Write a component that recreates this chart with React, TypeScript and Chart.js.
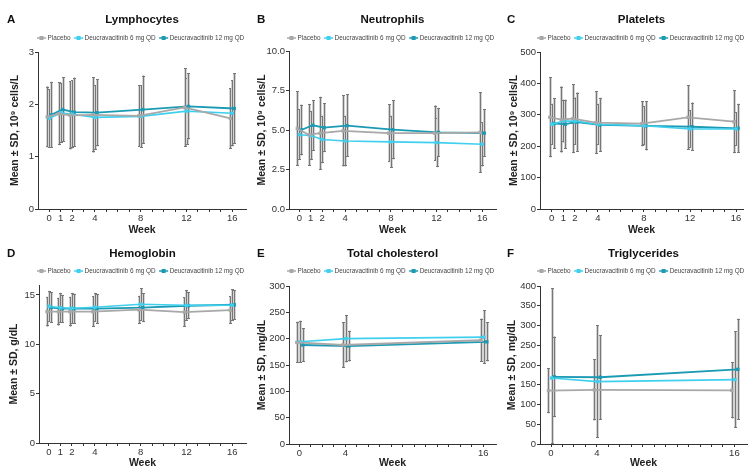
import React, { useEffect, useRef } from 'react';
import { Chart, registerables } from 'chart.js';

Chart.register(...registerables);
Chart.defaults.font.family = '"Liberation Sans", Arial, sans-serif';

// ---------- data ----------
const WEEKS_FULL = [0, 1, 2, 4, 8, 12, 16];
const WEEKS_LIPID = [0, 4, 16];
const SERIES_NAMES = ['Placebo', 'Deucravacitinib 6 mg QD', 'Deucravacitinib 12 mg QD'];
const SERIES_COLORS = ['#a8a8a8', '#3fd0ef', '#1b9ab4'];

// A – Lymphocytes (10^9 cells/L)
const lymphPlacebo = [1.76, 1.82, 1.79, 1.8, 1.78, 1.94, 1.73];
const lymphPlaceboSD = [0.58, 0.6, 0.65, 0.72, 0.59, 0.75, 0.58];
const lymph6 = [1.73, 1.84, 1.81, 1.75, 1.77, 1.87, 1.83];
const lymph6SD = [0.56, 0.57, 0.65, 0.62, 0.6, 0.64, 0.63];
const lymph12 = [1.8, 1.9, 1.85, 1.84, 1.9, 1.96, 1.92];
const lymph12SD = [0.63, 0.62, 0.66, 0.64, 0.65, 0.63, 0.67];

// B – Neutrophils (10^9 cells/L)
const neutPlacebo = [5.1, 4.7, 4.8, 4.95, 4.8, 4.8, 4.85];
const neutPlaceboSD = [2.35, 1.95, 2.3, 2.25, 1.83, 1.75, 2.55];
const neut6 = [4.7, 4.65, 4.4, 4.3, 4.25, 4.2, 4.1];
const neut6SD = [1.6, 1.55, 1.5, 1.6, 1.65, 1.55, 1.4];
const neut12 = [5.0, 5.3, 5.15, 5.28, 5.02, 4.85, 4.8];
const neut12SD = [1.6, 1.6, 1.55, 1.97, 1.87, 1.55, 1.5];

// C – Platelets (10^9 cells/L)
const pltPlacebo = [292, 285, 288, 275, 272, 292, 278];
const pltPlaceboSD = [127, 105, 110, 100, 72, 103, 100];
const plt6 = [270, 280, 280, 270, 265, 255, 255];
const plt6SD = [65, 68, 75, 65, 62, 60, 53];
const plt12 = [272, 270, 277, 268, 265, 262, 257];
const plt12SD = [80, 78, 94, 86, 78, 77, 78];

// D – Hemoglobin (g/dL)
const hgbPlacebo = [13.3, 13.3, 13.3, 13.3, 13.5, 13.25, 13.45];
const hgbPlaceboSD = [1.5, 1.4, 1.5, 1.55, 1.4, 1.5, 1.4];
const hgb6 = [13.85, 13.7, 13.65, 13.75, 14.05, 13.95, 13.95];
const hgb6SD = [1.55, 1.5, 1.55, 1.45, 1.65, 1.55, 1.6];
const hgb12 = [13.7, 13.6, 13.6, 13.6, 13.7, 13.9, 14.0];
const hgb12SD = [1.55, 1.4, 1.5, 1.5, 1.45, 1.35, 1.5];

// E – Total cholesterol (mg/dL)
const cholPlacebo = [193, 188, 197];
const cholPlaceboSD = [39, 43, 41];
const chol6 = [194, 200, 203];
const chol6SD = [40, 45, 51];
const chol12 = [188, 186, 194];
const chol12SD = [32, 29, 37];

// F – Triglycerides (mg/dL)
const trigPlacebo = [135, 137, 136];
const trigPlaceboSD = [57, 77, 71];
const trig6 = [167, 158, 163];
const trig6SD = [228, 143, 122];
const trig12 = [170, 169, 189];
const trig12SD = [102, 107, 128];

const Y_TITLE_CELLS = 'Mean \u00b1 SD, 10\u2079 cells/L';
const Y_TITLE_GDL = 'Mean \u00b1 SD, g/dL';
const Y_TITLE_MGDL = 'Mean \u00b1 SD, mg/dL';

// ---------- panel layout ----------
type PanelCfg = {
  letter: string; title: string; yTitle: string;
  weeks: number[]; means: number[][]; sds: number[][];
  yMin: number; yMax: number; yStep: number; yDec: number;
  xMin: number; xMax: number; offsets: number[];
  px: number; py: number; w: number; h: number;
  left: number; top: number; bottom: number; right: number;
  titleY: number; legendY: number; weekPad: number; yTitleX: number;
};

const OFFS_FULL = [-0.17, 0, 0.17];
const OFFS_LIPID = [-0.22, 0.05, 0.3];

const PANELS: PanelCfg[] = [
  {
    letter: 'A', title: 'Lymphocytes', yTitle: Y_TITLE_CELLS, weeks: WEEKS_FULL,
    means: [lymphPlacebo, lymph6, lymph12], sds: [lymphPlaceboSD, lymph6SD, lymph12SD],
    yMin: 0, yMax: 3, yStep: 1, yDec: 0, xMin: -0.98, xMax: 17.2, offsets: OFFS_FULL,
    px: 0, py: 0, w: 250, h: 236, left: 38, top: 52, bottom: 209, right: 248,
    titleY: 19.5, legendY: 38, weekPad: 0, yTitleX: 15,
  },
  {
    letter: 'B', title: 'Neutrophils', yTitle: Y_TITLE_CELLS, weeks: WEEKS_FULL,
    means: [neutPlacebo, neut6, neut12], sds: [neutPlaceboSD, neut6SD, neut12SD],
    yMin: 0, yMax: 10, yStep: 2.5, yDec: 1, xMin: -0.9, xMax: 17.2, offsets: OFFS_FULL,
    px: 250, py: 0, w: 250, h: 236, left: 39, top: 51, bottom: 209, right: 248,
    titleY: 19.5, legendY: 38, weekPad: 0, yTitleX: 12.5,
  },
  {
    letter: 'C', title: 'Platelets', yTitle: Y_TITLE_CELLS, weeks: WEEKS_FULL,
    means: [pltPlacebo, plt6, plt12], sds: [pltPlaceboSD, plt6SD, plt12SD],
    yMin: 0, yMax: 500, yStep: 100, yDec: 0, xMin: -1.02, xMax: 16.6, offsets: OFFS_FULL,
    px: 500, py: 0, w: 253, h: 236, left: 40, top: 52, bottom: 209, right: 243,
    titleY: 19.5, legendY: 38, weekPad: 0, yTitleX: 14.5,
  },
  {
    letter: 'D', title: 'Hemoglobin', yTitle: Y_TITLE_GDL, weeks: WEEKS_FULL,
    means: [hgbPlacebo, hgb6, hgb12], sds: [hgbPlaceboSD, hgb6SD, hgb12SD],
    yMin: 0, yMax: 16, yStep: 5, yDec: 0, xMin: -0.87, xMax: 17.2, offsets: OFFS_FULL,
    px: 0, py: 236, w: 250, h: 236, left: 39, top: 49, bottom: 207, right: 248,
    titleY: 17.5, legendY: 35, weekPad: 3, yTitleX: 14,
  },
  {
    letter: 'E', title: 'Total cholesterol', yTitle: Y_TITLE_MGDL, weeks: WEEKS_LIPID,
    means: [cholPlacebo, chol6, chol12], sds: [cholPlaceboSD, chol6SD, chol12SD],
    yMin: 0, yMax: 300, yStep: 50, yDec: 0, xMin: -0.9, xMax: 17.1, offsets: OFFS_LIPID,
    px: 250, py: 236, w: 250, h: 236, left: 39, top: 50, bottom: 208, right: 247,
    titleY: 17.5, legendY: 35, weekPad: 3, yTitleX: 12.5,
  },
  {
    letter: 'F', title: 'Triglycerides', yTitle: Y_TITLE_MGDL, weeks: WEEKS_LIPID,
    means: [trigPlacebo, trig6, trig12], sds: [trigPlaceboSD, trig6SD, trig12SD],
    yMin: 0, yMax: 400, yStep: 50, yDec: 0, xMin: -0.96, xMax: 17.1, offsets: OFFS_LIPID,
    px: 500, py: 236, w: 253, h: 236, left: 40, top: 50, bottom: 208, right: 247,
    titleY: 17.5, legendY: 35, weekPad: 3, yTitleX: 12.5,
  },
];

const FONT = '"Liberation Sans", Arial, sans-serif';
const AXIS_COLOR = '#333333';
const ERR_COLOR = '#777777';
const Y_TITLE_SIZE = 10.5;

function makeDecor(cfg: PanelCfg) {
  return {
    id: 'decor' + cfg.letter,
    beforeDatasetsDraw(chart: any) {
      const { ctx, chartArea } = chart;
      const xs = chart.scales.x;
      const ys = chart.scales.y;
      ctx.save();
      ctx.beginPath();
      ctx.rect(chartArea.left, chartArea.top - 2, chartArea.right - chartArea.left, chartArea.bottom - chartArea.top + 2);
      ctx.clip();
      cfg.means.forEach((series, si) => {
        series.forEach((m, j) => {
          const sd = cfg.sds[si][j];
          const x = Math.round(xs.getPixelForValue(cfg.weeks[j] + cfg.offsets[si])) + 0.5;
          const yHi = ys.getPixelForValue(Math.min(m + sd, cfg.yMax));
          const yLo = ys.getPixelForValue(Math.max(m - sd, cfg.yMin));
          ctx.fillStyle = '#d4d4d4';
          ctx.fillRect(x - 1.5, yHi, 3, yLo - yHi);
          ctx.strokeStyle = ERR_COLOR;
          ctx.lineWidth = 1;
          ctx.beginPath();
          ctx.moveTo(x, yHi);
          ctx.lineTo(x, yLo);
          ctx.moveTo(x - 1.5, Math.round(yHi) + 0.5);
          ctx.lineTo(x + 1.5, Math.round(yHi) + 0.5);
          ctx.moveTo(x - 1.5, Math.round(yLo) - 0.5);
          ctx.lineTo(x + 1.5, Math.round(yLo) - 0.5);
          ctx.stroke();
        });
      });
      ctx.restore();
    },
    afterDraw(chart: any) {
      const { ctx, chartArea } = chart;
      ctx.save();
      // panel letter
      ctx.fillStyle = '#111';
      ctx.textBaseline = 'middle';
      ctx.textAlign = 'left';
      ctx.font = `bold 11.5px ${FONT}`;
      ctx.fillText(cfg.letter, 7, cfg.titleY);
      // title
      ctx.textAlign = 'center';
      ctx.font = `bold 11.5px ${FONT}`;
      ctx.fillText(cfg.title, (chartArea.left + chartArea.right) / 2, cfg.titleY);
      // legend
      ctx.font = `6.4px ${FONT}`;
      ctx.textAlign = 'left';
      let x = 37;
      const y = cfg.legendY;
      SERIES_NAMES.forEach((name, i) => {
        ctx.strokeStyle = SERIES_COLORS[i];
        ctx.lineWidth = 1.5;
        ctx.beginPath();
        ctx.moveTo(x, y);
        ctx.lineTo(x + 9, y);
        ctx.stroke();
        ctx.fillStyle = SERIES_COLORS[i];
        ctx.fillRect(x + 2.5, y - 2, 4, 4);
        ctx.fillStyle = '#444';
        ctx.fillText(name, x + 10.5, y + 0.5);
        x += 10.5 + ctx.measureText(name).width + 3.5;
      });
      ctx.restore();
    },
  };
}

function Panel({ cfg }: { cfg: PanelCfg }) {
  const ref = useRef<HTMLCanvasElement | null>(null);
  useEffect(() => {
    if (!ref.current) return;
    const xTicks: number[] = [];
    for (let v = 0; v <= 16; v++) xTicks.push(v);
    const yTicks: number[] = [];
    for (let v = cfg.yMin; v <= cfg.yMax + 1e-9; v += cfg.yStep) yTicks.push(Math.round(v * 1000) / 1000);
    const datasets = cfg.means.map((series, si) => ({
      label: SERIES_NAMES[si],
      data: series.map((m, j) => ({ x: cfg.weeks[j] + cfg.offsets[si], y: m })),
      borderColor: SERIES_COLORS[si],
      backgroundColor: SERIES_COLORS[si],
      borderWidth: si === 1 ? 1.6 : 1.8,
      pointStyle: 'rect',
      pointRadius: 2.4,
      pointBorderWidth: 0,
      tension: 0,
      fill: false,
    }));
    const chart = new Chart(ref.current, {
      type: 'line',
      data: { datasets: datasets as any },
      options: {
        responsive: false,
        animation: false,
        devicePixelRatio: 1,
        layout: { padding: { left: 0, top: cfg.top, right: cfg.w - cfg.right, bottom: 0 } },
        plugins: {
          legend: { display: false },
          title: { display: false },
          tooltip: { enabled: false },
        },
        scales: {
          x: {
            type: 'linear',
            min: cfg.xMin,
            max: cfg.xMax,
            afterBuildTicks: (s: any) => {
              s.ticks = xTicks.map((v) => ({ value: v }));
            },
            afterFit: (s: any) => {
              s.height = cfg.h - cfg.bottom;
            },
            ticks: {
              autoSkip: false,
              maxRotation: 0,
              padding: 1,
              color: '#333',
              font: { size: 9.5 },
              callback: (v: any) => (cfg.weeks.includes(Number(v)) ? String(v) : ''),
            },
            grid: { display: true, drawOnChartArea: false, drawTicks: true, tickLength: 3, color: AXIS_COLOR, lineWidth: 1 },
            border: { display: true, color: AXIS_COLOR, width: 1 },
            title: {
              display: true,
              text: 'Week',
              color: '#222',
              font: { size: 10.5, weight: 'bold' },
              padding: { top: 0, bottom: cfg.weekPad },
            },
          },
          y: {
            type: 'linear',
            min: cfg.yMin,
            max: cfg.yMax,
            afterBuildTicks: (s: any) => {
              s.ticks = yTicks.map((v) => ({ value: v }));
            },
            afterFit: (s: any) => {
              s.width = cfg.left;
            },
            ticks: {
              padding: 1,
              color: '#333',
              font: { size: 9.5 },
              callback: (v: any) => Number(v).toFixed(cfg.yDec),
            },
            grid: { display: true, drawOnChartArea: false, drawTicks: true, tickLength: 3, color: AXIS_COLOR, lineWidth: 1 },
            border: { display: true, color: AXIS_COLOR, width: 1 },
            title: {
              display: true,
              text: cfg.yTitle,
              color: '#222',
              font: { size: Y_TITLE_SIZE, weight: 'bold' },
              padding: { top: cfg.yTitleX - (Y_TITLE_SIZE * 1.2) / 2, bottom: 0 },
            },
          },
        },
      },
      plugins: [makeDecor(cfg)],
    });
    return () => chart.destroy();
  }, [cfg]);
  return (
    <canvas
      ref={ref}
      width={cfg.w}
      height={cfg.h}
      style={{ position: 'absolute', left: cfg.px, top: cfg.py, width: cfg.w, height: cfg.h }}
    />
  );
}

export default function App() {
  return (
    <div style={{ position: 'absolute', left: 0, top: 0, width: 753, height: 472, background: '#ffffff', overflow: 'hidden' }}>
      {PANELS.map((p) => (
        <Panel key={p.letter} cfg={p} />
      ))}
    </div>
  );
}
